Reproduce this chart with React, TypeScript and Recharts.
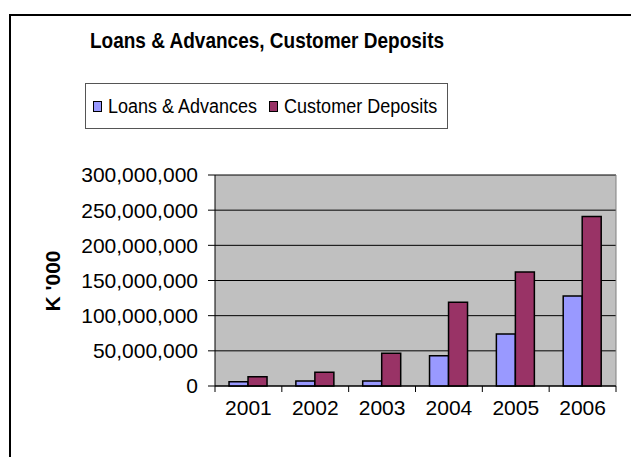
import React from 'react';
import { BarChart, Bar, XAxis, YAxis, CartesianGrid } from 'recharts';

const years = ['2001', '2002', '2003', '2004', '2005', '2006'];
const loansAdvances = [6000000, 7000000, 7000000, 43000000, 74000000, 128000000];
const customerDeposits = [13000000, 19500000, 46500000, 119000000, 162000000, 241000000];
const yTicks = [0, 50000000, 100000000, 150000000, 200000000, 250000000, 300000000];

const LOANS = '#9999FF';
const DEPOSITS = '#993366';
const FONT = '"Liberation Sans", Arial, sans-serif';

const data = years.map((year, i) => ({
    year,
    loans: loansAdvances[i],
    deposits: customerDeposits[i],
}));

// plot is 401px wide, six categories
const BAND = 401 / 6;

const YearTick = (props: any) => {
    const { x, y, payload, index } = props;
    return (
        <g>
            <line x1={x - BAND / 2} x2={x - BAND / 2} y1={y} y2={y + 6} stroke="#000" strokeWidth={1} />
            {index === years.length - 1 && (
                <line x1={x + BAND / 2} x2={x + BAND / 2} y1={y} y2={y + 6} stroke="#000" strokeWidth={1} />
            )}
            <text x={x} y={y + 29} textAnchor="middle" fontSize={21} fontFamily={FONT} fill="#000">
                {payload.value}
            </text>
        </g>
    );
};

const legendItems = [
    { label: 'Loans & Advances', color: LOANS },
    { label: 'Customer Deposits', color: DEPOSITS },
];

const App: React.FC = () => {
    return (
        <div style={{ position: 'absolute', left: 0, top: 0, width: 631, height: 457, background: '#fff', overflow: 'hidden', fontFamily: FONT }}>
            {/* chart frame */}
            <div style={{ position: 'absolute', left: 9, top: 14, width: 640, height: 460, borderLeft: '2px solid #000', borderTop: '2px solid #000' }} />

            {/* title (source text looks stretched vertically) */}
            <div style={{ position: 'absolute', left: 89, top: 30, width: 356, textAlign: 'center', fontSize: 19, fontWeight: 'bold', lineHeight: '22px', whiteSpace: 'nowrap', transform: 'scaleY(1.2)' }}>
                Loans &amp; Advances, Customer Deposits
            </div>

            {/* legend */}
            <div style={{ position: 'absolute', left: 85, top: 83, width: 363, height: 46, boxSizing: 'border-box', border: '1px solid #555', background: '#fff', display: 'flex', alignItems: 'center', paddingLeft: 7 }}>
                {legendItems.map((item, i) => (
                    <div key={i} style={{ display: 'flex', alignItems: 'center', marginRight: 12 }}>
                        <div style={{ width: 9, height: 11, boxSizing: 'border-box', border: '1.5px solid #000', background: item.color, marginRight: 6 }} />
                        <span style={{ fontSize: 18, lineHeight: '22px', whiteSpace: 'nowrap', display: 'inline-block', transform: 'scaleY(1.17)' }}>{item.label}</span>
                    </div>
                ))}
            </div>

            <BarChart
                width={631}
                height={457}
                data={data}
                margin={{ top: 175, right: 15, bottom: 31, left: 15 }}
                barCategoryGap="21%"
                barGap={0}
                style={{ position: 'absolute', left: 0, top: 0 }}
            >
                <CartesianGrid fill="#C0C0C0" stroke="#000" vertical={false} />
                <CartesianGrid
                    stroke="#808080"
                    horizontal={false}
                    verticalCoordinatesGenerator={({ offset }: any) => [offset.left + offset.width]}
                />
                <XAxis
                    dataKey="year"
                    height={40}
                    axisLine={{ stroke: '#000' }}
                    tickLine={false}
                    tickSize={0}
                    tickMargin={0}
                    tick={<YearTick />}
                    interval={0}
                />
                <YAxis
                    width={200}
                    domain={[0, 300000000]}
                    ticks={yTicks}
                    interval={0}
                    axisLine={{ stroke: '#000' }}
                    tickLine={{ stroke: '#000' }}
                    tickSize={7}
                    tickMargin={10}
                    tick={{ fontSize: 21, fill: '#000', fontFamily: FONT }}
                    tickFormatter={(v: number) => v.toLocaleString('en-US')}
                    label={{
                        content: () => (
                            <text x={52} y={281} transform="rotate(-90 52 281)" textAnchor="middle" dominantBaseline="central" fontSize={21} fontWeight="bold" fontFamily={FONT} fill="#000">
                                K '000
                            </text>
                        ),
                    }}
                />
                <Bar dataKey="loans" fill={LOANS} stroke="#000" strokeWidth={1.5} isAnimationActive={false} />
                <Bar dataKey="deposits" fill={DEPOSITS} stroke="#000" strokeWidth={1.5} isAnimationActive={false} />
            </BarChart>
        </div>
    );
};

export default App;
